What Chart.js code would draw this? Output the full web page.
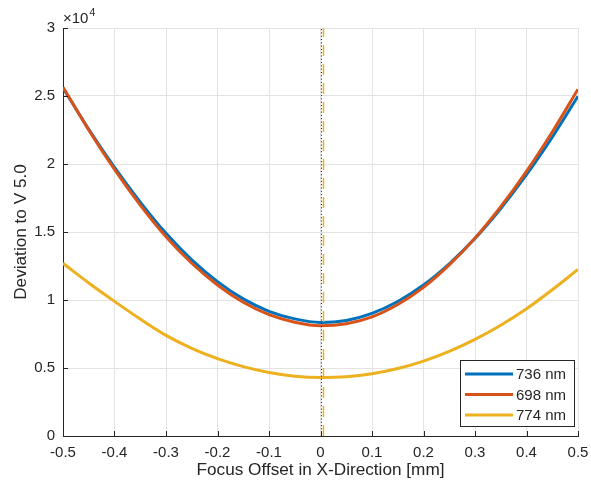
<!DOCTYPE html>
<html>
<head>
<meta charset="utf-8">
<script src="https://cdn.jsdelivr.net/npm/chart.js@4/dist/chart.umd.min.js"></script>
<style>
html,body{margin:0;padding:0;background:#fff;}
#wrap{width:591px;height:489px;position:relative;}
</style>
</head>
<body>
<div id="wrap"><canvas id="c" width="591" height="489"></canvas></div>
<script>
// ---- data (values in raw units; axis shows x10^4) ----
const xValues = [-0.5,-0.45,-0.4,-0.35,-0.3,-0.25,-0.2,-0.15,-0.1,-0.05,0,0.05,0.1,0.15,0.2,0.25,0.3,0.35,0.4,0.45,0.5];
const series736 = [25600,22550,19750,17200,14900,12950,11350,10080,9170,8610,8350,8500,9020,9890,11100,12660,14530,16730,19210,21970,24980];
const series698 = [25650,22500,19600,16980,14650,12700,11100,9830,8920,8360,8100,8250,8760,9670,10930,12580,14550,16860,19460,22350,25500];
const series774 = [12700,11250,9900,8600,7400,6450,5690,5100,4670,4400,4300,4360,4580,4960,5510,6220,7100,8140,9350,10750,12250];
const seriesLabels = ['736 nm','698 nm','774 nm'];
const seriesColors = ['#0072BD','#D95319','#EDB120'];
const markerX = [0.0019, 0.0058];
const yRange = [0, 30000];
const xTickLabels = ['-0.5','-0.4','-0.3','-0.2','-0.1','0','0.1','0.2','0.3','0.4','0.5'];
const yTickLabels = ['0','0.5','1','1.5','2','2.5','3'];

const toPts = arr => arr.map((v,i)=>({x:xValues[i], y:v}));
const FONT = "'Liberation Sans', Arial, Helvetica, sans-serif";
const TXT = '#262626';

const insideTicks = {
  id:'insideTicks',
  afterDraw(chart){
    const {ctx, chartArea:a, scales:{x,y}} = chart;
    ctx.save();
    ctx.strokeStyle = TXT; ctx.lineWidth = 1;
    ctx.beginPath();
    x.ticks.forEach(t=>{ const px = Math.round(x.getPixelForValue(t.value))+0.5; ctx.moveTo(px,a.bottom); ctx.lineTo(px,a.bottom-5); });
    y.ticks.forEach(t=>{ const py = Math.round(y.getPixelForValue(t.value))+0.5; ctx.moveTo(a.left,py); ctx.lineTo(a.left+5,py); });
    ctx.stroke();
    // exponent label
    ctx.fillStyle = TXT;
    ctx.textBaseline = 'alphabetic';
    ctx.textAlign = 'left';
    ctx.font = '15px ' + FONT;
    ctx.fillText('\u00d710', a.left, 23);
    const w = ctx.measureText('\u00d710').width;
    ctx.font = '10.5px ' + FONT;
    ctx.fillText('4', a.left + w + 1, 16);
    // legend
    const lx = 460.5, ly = 360.5, lw = 114, lh = 66;
    ctx.fillStyle = '#fff';
    ctx.fillRect(lx, ly, lw, lh);
    ctx.strokeStyle = '#262626';
    ctx.strokeRect(lx, ly, lw, lh);
    ctx.font = '15px ' + FONT;
    ctx.textBaseline = 'middle';
    seriesLabels.forEach((lab,i)=>{
      const cy = 374 + i*20.5;
      ctx.strokeStyle = seriesColors[i]; ctx.lineWidth = 3;
      ctx.beginPath(); ctx.moveTo(465, cy); ctx.lineTo(513, cy); ctx.stroke();
      ctx.fillStyle = TXT;
      ctx.fillText(lab, 516, cy+1);
    });
    ctx.restore();
  }
};

const ds = [
  {label:'vline1', data:[{x:markerX[0],y:yRange[0]},{x:markerX[0],y:yRange[1]}], borderColor:'#111', borderWidth:1, borderDash:[1,2.3], pointRadius:0, order:0, tension:0},
  {label:'vline2', data:[{x:markerX[1],y:yRange[0]},{x:markerX[1],y:yRange[1]}], borderColor:'#EDB120', borderWidth:1.5, borderDash:[11,8], pointRadius:0, order:0, tension:0},
  {label:seriesLabels[0], data:toPts(series736), borderColor:seriesColors[0], borderWidth:3, pointRadius:0, order:3, cubicInterpolationMode:'monotone'},
  {label:seriesLabels[1], data:toPts(series698), borderColor:seriesColors[1], borderWidth:3, pointRadius:0, order:2, cubicInterpolationMode:'monotone'},
  {label:seriesLabels[2], data:toPts(series774), borderColor:seriesColors[2], borderWidth:3, pointRadius:0, order:1, cubicInterpolationMode:'monotone'}
];

new Chart(document.getElementById('c'), {
  type:'line',
  data:{datasets:ds},
  options:{
    responsive:false, animation:false,
    layout:{padding:{left:0,top:28,right:13,bottom:0}},
    plugins:{legend:{display:false}, tooltip:{enabled:false}},
    scales:{
      x:{type:'linear', min:-0.5, max:0.5,
        afterFit(s){ s.height = 53; s.paddingLeft = 0; s.paddingRight = 0; },
        ticks:{stepSize:0.1, padding:8, color:TXT, font:{family:FONT,size:15}, maxRotation:0, autoSkip:false,
          callback:(v,i)=>xTickLabels[i]},
        grid:{color:'#e3e3e3', drawTicks:false},
        border:{display:true, color:TXT, width:1},
        title:{display:true, text:'Focus Offset in X-Direction [mm]', color:TXT, font:{family:FONT,size:17.2}, padding:{top:0,bottom:8}}
      },
      y:{type:'linear', min:yRange[0], max:yRange[1],
        afterFit(s){ s.width = 63; s.paddingTop = 0; s.paddingBottom = 0; },
        ticks:{stepSize:5000, padding:8, color:TXT, font:{family:FONT,size:15},
          callback:(v,i)=>yTickLabels[i]},
        grid:{color:'#e3e3e3', drawTicks:false},
        border:{display:true, color:TXT, width:1},
        title:{display:true, text:'Deviation to V 5.0', color:TXT, font:{family:FONT,size:17.2}, padding:{top:11,bottom:0}}
      }
    }
  },
  plugins:[insideTicks]
});
</script>
</body>
</html>
